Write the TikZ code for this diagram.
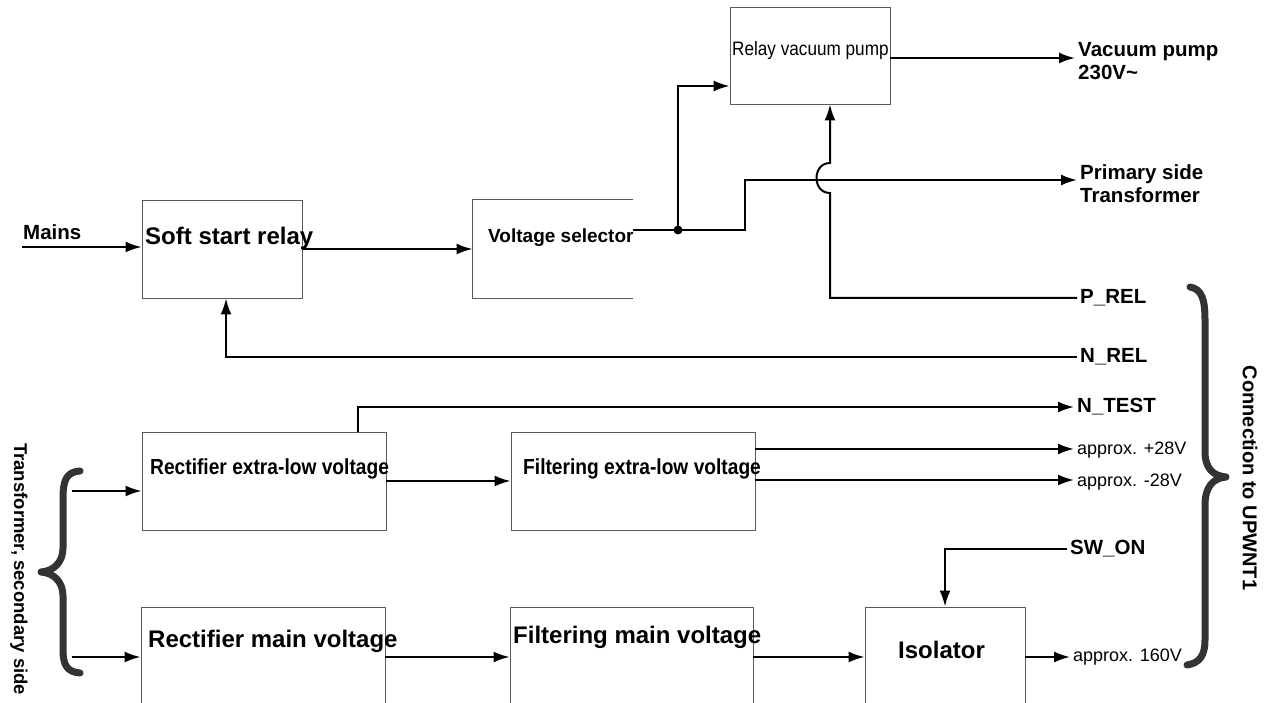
\documentclass[tikz,border=0pt]{standalone}
\usepackage{fontspec}
\setmainfont{Liberation Sans}
\newfontfamily\narrowsf[FakeStretch=0.88]{Liberation Sans}
\usetikzlibrary{arrows.meta,positioning,calc}

\begin{document}
\begin{tikzpicture}[x=1pt,y=-1pt,
    b/.style={draw=black!65,line width=0.9pt,minimum width=160pt,minimum height=98pt,inner sep=0pt},
    wb/.style={b,minimum width=244pt},
    bt/.style={anchor=west,inner sep=0pt,font=\fontsize{24}{27}\selectfont\bfseries},
    nt/.style={anchor=west,inner sep=0pt,font=\fontsize{21.8}{24}\selectfont\narrowsf\bfseries},
    lb/.style={anchor=west,inner sep=3pt,align=left,font=\fontsize{20.5}{23}\selectfont\bfseries},
    sm/.style={anchor=west,inner sep=3pt,font=\fontsize{18}{20}\selectfont},
    rt/.style={rotate=-90,inner sep=0pt,font=\fontsize{20}{22}\selectfont\bfseries},
    ln/.style={line width=2pt},
    a/.style={ln,-{Latex[length=16pt,width=11pt]}},
    br/.style={line width=7pt,draw=black!80,line cap=round,line join=round}]
    \useasboundingbox (0,0) rectangle (1272,703);
    \clip (0,0) rectangle (1272,703);
    % boxes
    \node[b] (ssr) at (222,249) {};
    \node[b,draw=none] (vs) at (553,249) {};
    \draw[black!65,line width=0.9pt] (vs.north east) -- (vs.north west) -- (vs.south west) -- (vs.south east);
    \node[b,minimum height=97pt] (rvp) at (810,55.5) {};
    \node[wb] (rel) at (264,481) {};
    \node[wb] (fel) at (633,481) {};
    \node[wb,minimum height=110pt] (rmv) at (263,662) {};
    \node[wb,minimum width=243pt,minimum height=110pt] (fmv) at (631.5,662) {};
    \node[b,minimum height=110pt] (iso) at (945,662) {};
    % box texts
    \node[bt] (ssrt) at (145,238) {Soft start relay};
    \node[bt,font=\fontsize{19}{21}\selectfont\bfseries] (vst) at (488,238) {Voltage selector};
    \node[nt,font=\fontsize{19.5}{22}\selectfont\narrowsf] (rvpt) at (732,50) {Relay vacuum pump};
    \node[nt] (relt) at (150,469) {Rectifier extra-low voltage};
    \node[nt] (felt) at (523,469) {Filtering extra-low voltage};
    \node[bt] (rmvt) at (148,641) {Rectifier main voltage};
    \node[bt] (fmvt) at (513,637) {Filtering main voltage};
    \node[bt] (isot) at (898,650) {Isolator};
    % signal labels
    \node[lb] (mains) at (20,232) {Mains};
    \node[lb] (vpl) at (1075,61) {Vacuum pump\\230V\textasciitilde};
    \node[lb] (pst) at (1077,184) {Primary side\\Transformer};
    \node[lb] (prel) at (1077,298) {P\_REL};
    \node[lb] (nrel) at (1077,357) {N\_REL};
    \node[lb] (ntest) at (1074,407) {N\_TEST};
    \node[sm] (p28) at (1074,450) {approx. +28V};
    \node[sm] (m28) at (1074,482) {approx. -28V};
    \node[lb] (swon) at (1067,549) {SW\_ON};
    \node[sm] (a160) at (1070,657) {approx. 160V};
    \node[rt,anchor=west,font=\fontsize{18.5}{21}\selectfont\bfseries] (sec) at (19,443) {Transformer, secondary side};
    \node[rt] (con) at (1250,478) {Connection to UPWNT1};
    % braces
    \draw[br] (80,471) .. controls (65,472) and (63,482) .. (63,500) -- (63,548)
      .. controls (63,562) and (54,571) .. (41,572) .. controls (54,573) and (63,582) .. (63,596)
      -- (63,650) .. controls (63,665) and (67,672) .. (80,673);
    \draw[br] (1190,287) .. controls (1202,289) and (1205,300) .. (1205,320) -- (1205,452)
      .. controls (1205,468) and (1213,476) .. (1226,477) .. controls (1213,478) and (1205,487) .. (1205,505)
      -- (1205,640) .. controls (1205,655) and (1200,663) .. (1187,665);
    % connectors
    \coordinate (min) at (22,247);
    \coordinate (jn) at (678,230);
    \coordinate (s1) at (72,491);
    \coordinate (s2) at (72,657);
    \draw[a] (min) -- (min -| ssr.west);
    \draw[a] (ssr) -- (vs);
    \draw[ln] (jn -| vs.east) -- (jn);
    \draw[a] (jn) -| (745,180) -- (pst.west |- 745,180);
    \draw[a] (jn) |- (rvp.west |- 0,86);
    \fill (jn) circle (4.5pt);
    \draw[a] (rvp.east |- 0,58) -- (vpl.west |- 0,58);
    \draw[a] (prel.west) -- (830,298) -- (830,193) .. controls (812,193) and (812,163) .. (830,163) -- (830,0 |- rvp.south);
    \draw[a] (nrel.west) -| (226,0 |- ssr.south);
    \draw[a] (358,0 |- rel.north) |- (ntest.west);
    \draw[a] (rel) -- (fel);
    \draw[a] (fel.east |- 0,449) -- (p28.west |- 0,449);
    \draw[a] (fel.east |- 0,480) -- (m28.west |- 0,480);
    \draw[a] (s1) -- (s1 -| rel.west);
    \draw[a] (s2) -- (s2 -| rmv.west);
    \draw[a] ([yshift=5pt]rmv.east) -- ([yshift=5pt]fmv.west);
    \draw[a] ([yshift=5pt]fmv.east) -- ([yshift=5pt]iso.west);
    \draw[a] ([yshift=5pt]iso.east) -- (a160.west);
    \draw[a] (swon.west) -| (iso.north);
\end{tikzpicture}
\end{document}
